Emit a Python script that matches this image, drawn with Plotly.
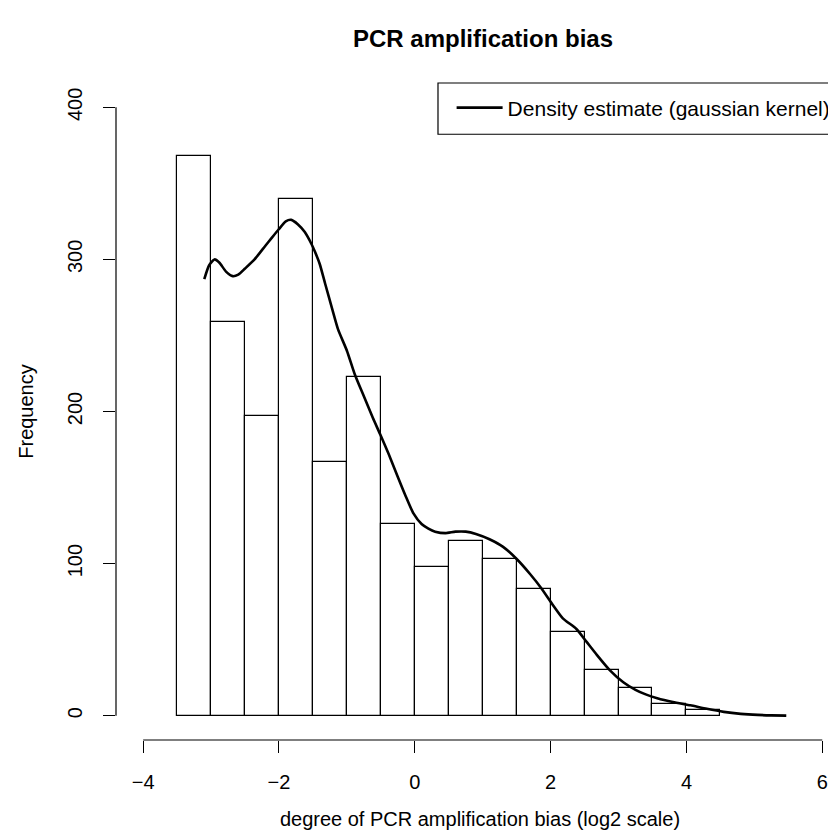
import plotly.graph_objects as go

# Histogram data
bin_left = [-3.5, -3.0, -2.5, -2.0, -1.5, -1.0, -0.5, 0.0, 0.5, 1.0, 1.5, 2.0, 2.5, 3.0, 3.5, 4.0]
bin_width = 0.5
counts = [368, 259, 197, 340, 167, 223, 126, 98, 115, 103, 83, 55, 30, 18, 8, 4]

# Density estimate (scaled to frequency)
dens_x = [-3.10, -3.03, -2.95, -2.88, -2.78, -2.68, -2.60, -2.50, -2.36, -2.20, -2.11, -2.00,
          -1.90, -1.82, -1.72, -1.62, -1.52, -1.47, -1.40, -1.32, -1.22, -1.13, -1.00, -0.88,
          -0.75, -0.62, -0.51, -0.385, -0.25, -0.14, -0.02, 0.10, 0.20, 0.30, 0.45, 0.60, 0.75,
          0.90, 1.10, 1.30, 1.50, 1.70, 1.86, 2.03, 2.18, 2.38, 2.53, 2.68, 2.87, 3.07, 3.25,
          3.40, 3.57, 3.80, 4.06, 4.30, 4.55, 4.80, 5.05, 5.25, 5.47]
dens_y = [287, 296, 300, 298, 292, 289, 290, 294, 300, 309, 314, 320,
          325, 326, 323, 318, 310, 305, 297, 284, 268, 254, 240, 224,
          210, 196, 185, 172, 157, 145, 133, 126, 123, 121, 120, 121, 121,
          119.5, 116, 111, 103, 93, 84, 73, 64, 57, 48.5, 40, 30, 22, 17,
          14, 11.5, 9, 6.8, 4.5, 2.5, 1.2, 0.5, 0.2, 0.05]

x_ticks = [-4, -2, 0, 2, 4, 6]
y_ticks = [0, 100, 200, 300, 400]

title_text = "PCR amplification bias"
x_title = "degree of PCR amplification bias (log2 scale)"
y_title = "Frequency"
legend_label = "Density estimate (gaussian kernel)"

FONT = "Liberation Sans, Arial, Helvetica, sans-serif"
FS = 20

fig = go.Figure()
fig.add_trace(go.Bar(
    x=[b + bin_width / 2 for b in bin_left], y=counts, width=bin_width,
    marker=dict(color="white", line=dict(color="black", width=1.2)),
    showlegend=False, hoverinfo="skip"))
fig.add_trace(go.Scatter(
    x=dens_x, y=dens_y, mode="lines",
    line=dict(color="black", width=2.6, shape="spline", smoothing=0.6),
    name=legend_label, showlegend=True))

# R-style axis lines spanning first to last tick
fig.add_shape(type="line", xref="x", yref="paper", x0=x_ticks[0], x1=x_ticks[-1], y0=0, y1=0,
              line=dict(color="black", width=1.2))
fig.add_shape(type="line", xref="paper", yref="y", x0=0, x1=0, y0=y_ticks[0], y1=y_ticks[-1],
              line=dict(color="black", width=1.2))
# legend box
fig.add_shape(type="rect", xref="paper", yref="paper", x0=0.4423, x1=1.01, y0=0.922, y1=1.0,
              line=dict(color="black", width=1.2), fillcolor="rgba(0,0,0,0)")

fig.update_layout(
    width=836, height=833,
    margin=dict(l=108, r=0, t=75, b=101),
    paper_bgcolor="white", plot_bgcolor="white",
    font=dict(family=FONT, size=FS, color="black"),
    title=dict(text="<b>" + title_text + "</b>", x=475 / 836, xanchor="center",
               y=1 - 31 / 833, yanchor="middle", font=dict(size=24)),
    bargap=0,
    showlegend=True,
    legend=dict(x=0.461, xanchor="left", y=0.962, yanchor="middle", bgcolor="rgba(0,0,0,0)",
                borderwidth=0, itemwidth=46, font=dict(size=21)),
    xaxis=dict(range=[-4.4, 6.32], tickvals=x_ticks, ticks="outside", ticklen=12, tickwidth=1.2,
               tickcolor="black", showgrid=False, zeroline=False, showline=False,
               ticklabelstandoff=12, tickfont=dict(size=FS),
               title=dict(text=x_title, standoff=19, font=dict(size=FS))),
    yaxis=dict(range=[-16, 416], tickvals=y_ticks, ticks="outside", ticklen=12, tickwidth=1.2,
               tickcolor="black", showgrid=False, zeroline=False, showline=False,
               tickangle=-90, ticklabelstandoff=13, tickfont=dict(size=FS),
               title=dict(text=y_title, standoff=25, font=dict(size=FS))),
)

fig.write_html("out.html")
